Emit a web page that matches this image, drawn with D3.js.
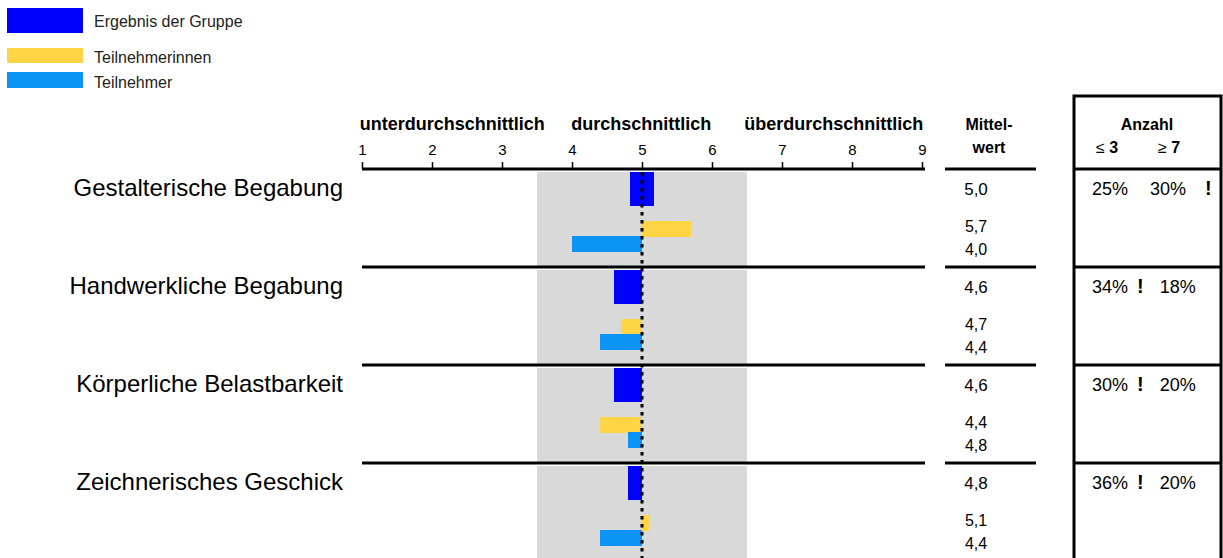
<!DOCTYPE html>
<html>
<head>
<meta charset="utf-8">
<script src="https://cdn.jsdelivr.net/npm/d3@7"></script>
<style>
  body { margin: 0; background: #fff; }
  svg { display: block; font-family: Arial, "Liberation Sans", sans-serif; }
</style>
</head>
<body>
<script>
// data
var categories = ["Gestalterische Begabung", "Handwerkliche Begabung", "Körperliche Belastbarkeit", "Zeichnerisches Geschick"];
var groupValues = [5.0, 4.6, 4.6, 4.8];
var femaleValues = [5.7, 4.7, 4.4, 5.1];
var maleValues = [4.0, 4.4, 4.8, 4.4];
var lowShare = [25, 34, 30, 36];   // Anzahl <= 3
var highShare = [30, 18, 20, 20];  // Anzahl >= 7
var lowFlag = [false, true, true, true];
var highFlag = [true, false, false, false];
var scaleTicks = [1, 2, 3, 4, 5, 6, 7, 8, 9];
var bandLabels = ["unterdurchschnittlich", "durchschnittlich", "überdurchschnittlich"];
var bandCenters = [2.29, 4.99, 7.74];
var legendItems = ["Ergebnis der Gruppe", "Teilnehmerinnen", "Teilnehmer"];
var refValue = 5;
var avgRange = [3.5, 6.5];

var width = 1223, height = 558;
var colGroup = "#0000ff", colFemale = "#fdd444", colMale = "#0b93f5", colGray = "#d9d9d9";

var svg = d3.select("body").append("svg")
  .attr("width", width)
  .attr("height", height);

var x = d3.scaleLinear().domain([1, 9]).range([362, 922]);
var y = d3.scaleBand().domain(d3.range(categories.length)).range([169, 169 + 98 * categories.length]);
var fmt = function(v) { return d3.format(".1f")(v).replace(".", ","); };

// legend
var legColors = [colGroup, colFemale, colMale];
var legRects = [[8, 25], [48, 15], [72, 16]];
var legText = [27, 63, 88];
legendItems.forEach(function(t, i) {
  svg.append("rect").attr("x", 7).attr("y", legRects[i][0]).attr("width", 76).attr("height", legRects[i][1]).attr("fill", legColors[i]);
  svg.append("text").attr("x", 94).attr("y", legText[i]).attr("font-size", 16).attr("fill", "#222").text(t);
});

// gray "average" band per row
categories.forEach(function(c, i) {
  svg.append("rect")
    .attr("x", x(avgRange[0])).attr("width", x(avgRange[1]) - x(avgRange[0]))
    .attr("y", y(i) + 3).attr("height", y.bandwidth() - 4)
    .attr("fill", colGray);
});

// header
svg.selectAll(".band").data(bandLabels).enter().append("text")
  .attr("x", function(d, i) { return x(bandCenters[i]); })
  .attr("y", 130).attr("text-anchor", "middle")
  .attr("font-size", 18).attr("font-weight", "bold").text(function(d) { return d; });

var axis = d3.axisTop(x).tickValues(scaleTicks).tickSize(7).tickFormat(d3.format("d"));
var gAxis = svg.append("g").attr("transform", "translate(0,169)").call(axis);
gAxis.select(".domain").remove();
gAxis.selectAll(".tick line").attr("stroke", "#000").attr("stroke-width", 1.5);
gAxis.selectAll(".tick text").attr("font-size", 15).attr("font-family", "Arial, 'Liberation Sans', sans-serif").attr("fill", "#000").attr("dy", "-0.25em");

svg.append("text").attr("x", 989).attr("y", 130).attr("text-anchor", "middle").attr("font-size", 16).attr("font-weight", "bold").text("Mittel-");
svg.append("text").attr("x", 989).attr("y", 153).attr("text-anchor", "middle").attr("font-size", 16).attr("font-weight", "bold").text("wert");

svg.append("text").attr("x", 1147).attr("y", 130).attr("text-anchor", "middle").attr("font-size", 16).attr("font-weight", "bold").text("Anzahl");
var le = svg.append("text").attr("x", 1096).attr("y", 153).attr("font-size", 16);
le.append("tspan").text("\u2264 ");
le.append("tspan").attr("font-weight", "bold").text("3");
var ge = svg.append("text").attr("x", 1158).attr("y", 153).attr("font-size", 16);
ge.append("tspan").text("\u2265 ");
ge.append("tspan").attr("font-weight", "bold").text("7");

// box for Anzahl
svg.append("rect").attr("x", 1074).attr("y", 96).attr("width", 147).attr("height", 480)
  .attr("fill", "none").attr("stroke", "#000").attr("stroke-width", 3);

// rows
var rows = svg.selectAll(".row").data(categories).enter().append("g")
  .attr("class", "row")
  .attr("transform", function(d, i) { return "translate(0," + y(i) + ")"; });

rows.append("text").attr("x", 343).attr("y", 27).attr("text-anchor", "end")
  .attr("font-size", 24).text(function(d) { return d; });

// group bar: from value to reference, minimum width when at the reference
rows.append("rect")
  .attr("x", function(d, i) {
    var v = groupValues[i];
    return Math.abs(v - refValue) < 0.05 ? x(refValue) - 12 : x(Math.min(v, refValue));
  })
  .attr("width", function(d, i) {
    var v = groupValues[i];
    return Math.abs(v - refValue) < 0.05 ? 24 : Math.abs(x(v) - x(refValue));
  })
  .attr("y", 3).attr("height", 34).attr("fill", colGroup);

rows.append("rect")
  .attr("x", function(d, i) { return x(Math.min(femaleValues[i], refValue)); })
  .attr("width", function(d, i) { return Math.abs(x(femaleValues[i]) - x(refValue)); })
  .attr("y", 52).attr("height", 16).attr("fill", colFemale);

rows.append("rect")
  .attr("x", function(d, i) { return x(Math.min(maleValues[i], refValue)); })
  .attr("width", function(d, i) { return Math.abs(x(maleValues[i]) - x(refValue)); })
  .attr("y", 67).attr("height", 16).attr("fill", colMale);

// row separators
rows.append("line").attr("x1", 362).attr("x2", 925).attr("y1", 0).attr("y2", 0).attr("stroke", "#000").attr("stroke-width", 3);
rows.append("line").attr("x1", 945).attr("x2", 1036).attr("y1", 0).attr("y2", 0).attr("stroke", "#000").attr("stroke-width", 3);
rows.append("line").attr("x1", 1074).attr("x2", 1221).attr("y1", 0).attr("y2", 0).attr("stroke", "#000").attr("stroke-width", 3);

// mean values
rows.append("text").attr("x", 976).attr("y", 26).attr("text-anchor", "middle").attr("font-size", 17)
  .text(function(d, i) { return fmt(groupValues[i]); });
rows.append("text").attr("x", 976).attr("y", 63).attr("text-anchor", "middle").attr("font-size", 16)
  .text(function(d, i) { return fmt(femaleValues[i]); });
rows.append("text").attr("x", 976).attr("y", 86).attr("text-anchor", "middle").attr("font-size", 16)
  .text(function(d, i) { return fmt(maleValues[i]); });

// Anzahl shares, flagged values followed by a bold "!"
rows.each(function(d, i) {
  var t = d3.select(this).append("text").attr("x", 1092).attr("y", 26).attr("font-size", 18);
  t.append("tspan").text(lowShare[i] + "%");
  if (lowFlag[i]) t.append("tspan").attr("dx", 9).attr("font-size", 20).attr("font-weight", "bold").text("!");
  t.append("tspan").attr("dx", lowFlag[i] ? 16 : 22).text(highShare[i] + "%");
  if (highFlag[i]) t.append("tspan").attr("dx", 19).attr("font-size", 20).attr("font-weight", "bold").text("!");
});

// reference line
svg.append("line").attr("x1", x(refValue)).attr("x2", x(refValue)).attr("y1", 172).attr("y2", height)
  .attr("stroke", "#000").attr("stroke-width", 3).attr("stroke-dasharray", "3.5,4.5");
</script>
</body>
</html>
